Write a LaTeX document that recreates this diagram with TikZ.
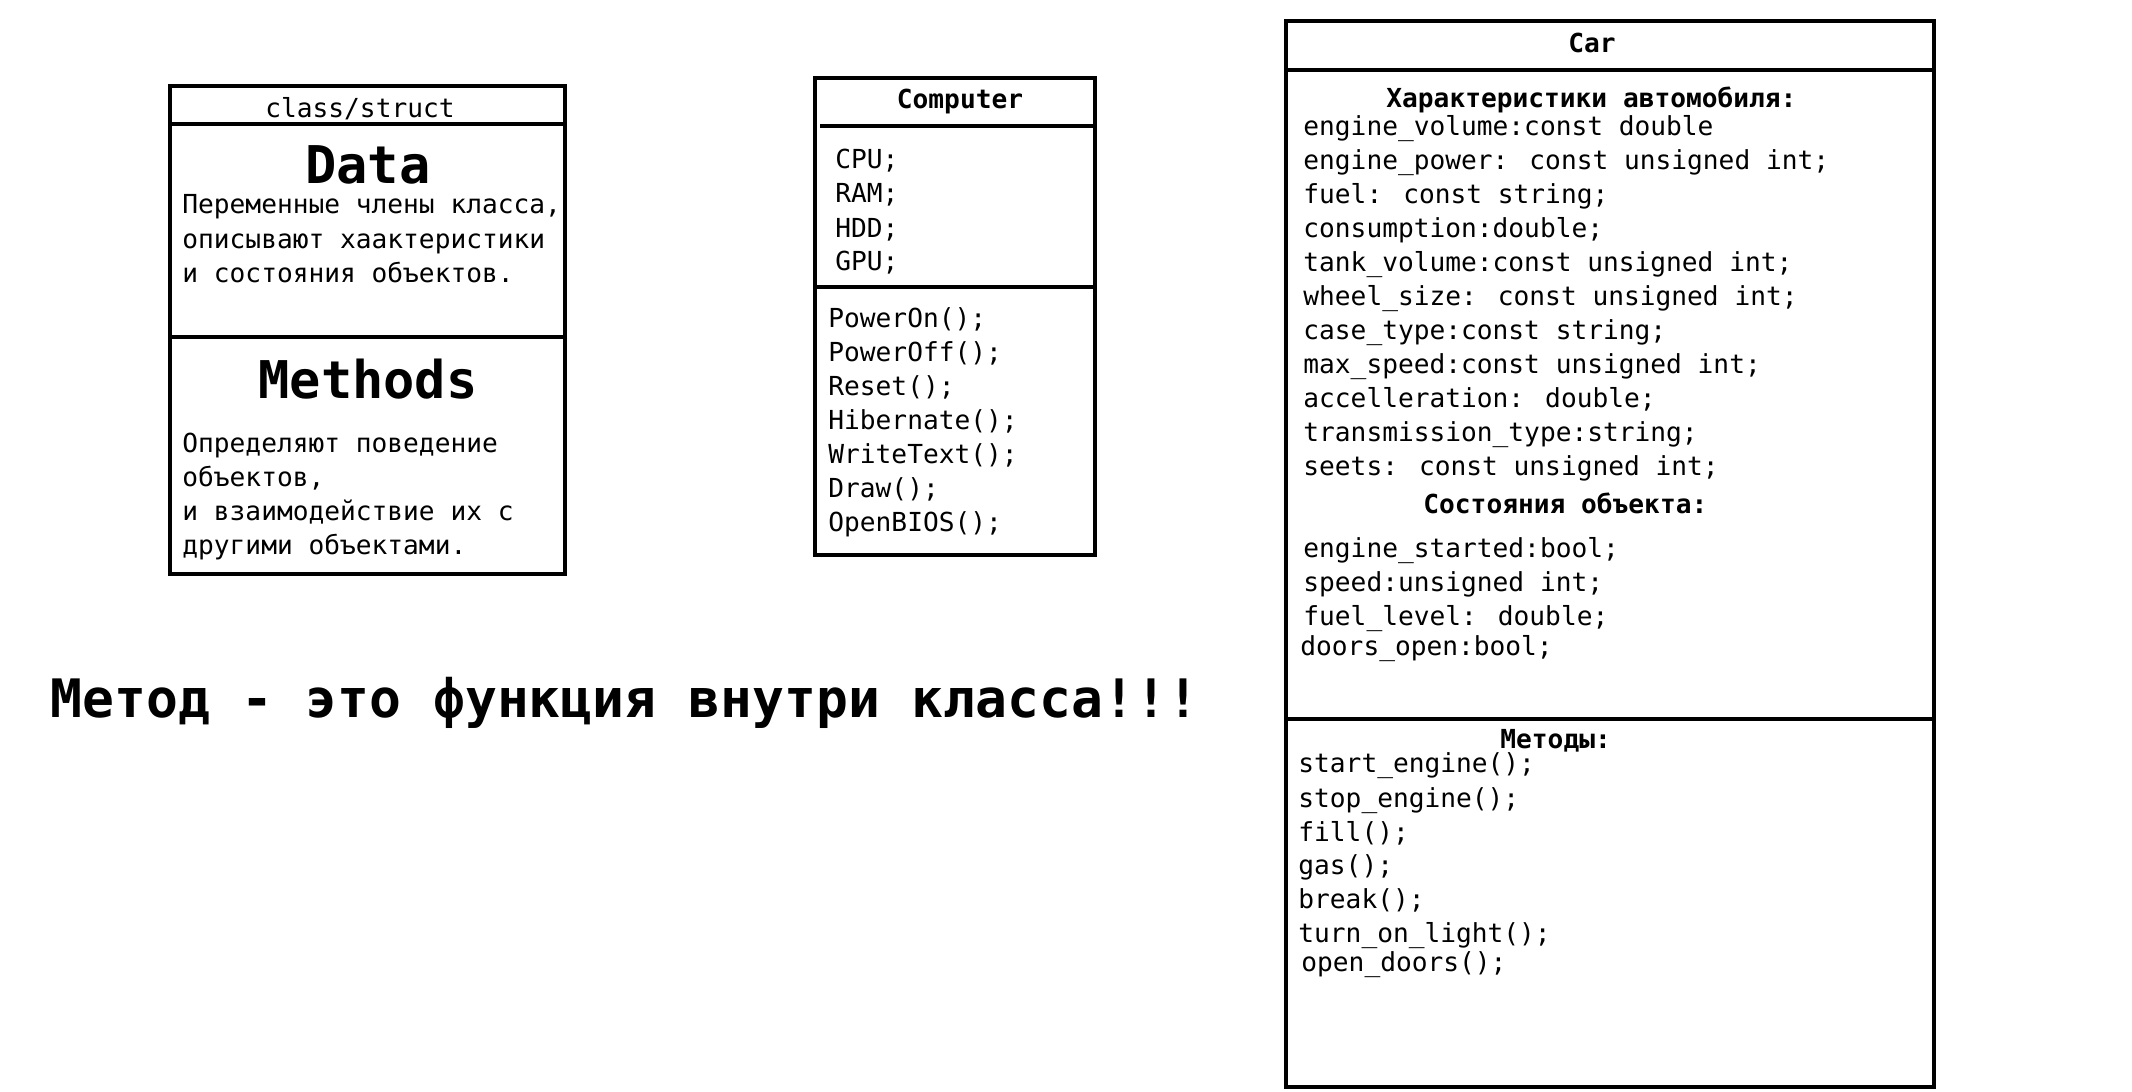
\documentclass[tikz,border=0pt]{standalone}
\usepackage{fontspec}
\setmainfont{DejaVu Sans Mono}
\setmonofont{DejaVu Sans Mono}
\tikzset{
  txt/.style={anchor=base west, inner sep=0pt, font=\fontsize{13.1}{16}\selectfont},
  head/.style={anchor=base, inner sep=0pt, font=\fontsize{13.1}{16}\selectfont\bfseries},
  headw/.style={anchor=base west, inner sep=0pt, font=\fontsize{13.1}{16}\selectfont\bfseries},
  big/.style={anchor=base, inner sep=0pt, font=\fontsize{26}{30}\selectfont\bfseries},
  frame/.style={line width=2.4pt}
}
\begin{document}
\begin{tikzpicture}[x=0.5pt,y=-0.5pt]
\useasboundingbox[fill=white] (0,0) rectangle (2132,1092);

% ---- class/struct box
\draw[frame] (170,86) rectangle (565,574);
\draw[frame] (170,124) -- (565,124);
\draw[frame] (170,337) -- (565,337);
\node[head, font=\fontsize{13.1}{16}\selectfont] (cs) at (360,117) {class/struct};
\node[big] (data) at (368,183) {Data};
\node[txt] (d1) at (182,213) {Переменные члены класса,};
\node[txt] (d2) at (182,248) {описывают хаактеристики};
\node[txt] (d3) at (182,282) {и состояния объектов.};
\node[big] (meth) at (368,398) {Methods};
\node[txt] (m1) at (182,452) {Определяют поведение};
\node[txt] (m2) at (182,486) {объектов,};
\node[txt] (m3) at (182,520) {и взаимодействие их с};
\node[txt] (m4) at (182,554) {другими объектами.};

% ---- Computer box
\draw[frame] (815,78) rectangle (1095,555);
\draw[frame] (820,126) -- (1095,126);
\draw[frame] (815,287) -- (1095,287);
\node[head] (comp) at (960,108) {Computer};
\node[txt] (c1) at (835,168) {CPU;};
\node[txt] (c2) at (835,202) {RAM;};
\node[txt] (c3) at (835,237) {HDD;};
\node[txt] (c4) at (835,270) {GPU;};
\node[txt] (cm1) at (828,327) {PowerOn();};
\node[txt] (cm2) at (828,361) {PowerOff();};
\node[txt] (cm3) at (828,395) {Reset();};
\node[txt] (cm4) at (828,429) {Hibernate();};
\node[txt] (cm5) at (828,463) {WriteText();};
\node[txt] (cm6) at (828,497) {Draw();};
\node[txt] (cm7) at (828,531) {OpenBIOS();};

% ---- Car box
\draw[frame] (1286,21) rectangle (1934,1087);
\draw[frame] (1286,70) -- (1934,70);
\draw[frame] (1286,719) -- (1934,719);
\node[head] (car) at (1592,52) {Car};
\node[headw] (ch) at (1386,107) {Характеристики автомобиля:};
\node[txt] (a1) at (1303,135) {engine\_volume:const double};
\node[txt] (a2) at (1303,169) {engine\_power: const unsigned int;};
\node[txt] (a3) at (1303,203) {fuel: const string;};
\node[txt] (a4) at (1303,237) {consumption:double;};
\node[txt] (a5) at (1303,271) {tank\_volume:const unsigned int;};
\node[txt] (a6) at (1303,305) {wheel\_size: const unsigned int;};
\node[txt] (a7) at (1303,339) {case\_type:const string;};
\node[txt] (a8) at (1303,373) {max\_speed:const unsigned int;};
\node[txt] (a9) at (1303,407) {accelleration: double;};
\node[txt] (a10) at (1303,441) {transmission\_type:string;};
\node[txt] (a11) at (1303,475) {seets: const unsigned int;};
\node[headw] (sh) at (1423,513) {Состояния объекта:};
\node[txt] (s1) at (1303,557) {engine\_started:bool;};
\node[txt] (s2) at (1303,591) {speed:unsigned int;};
\node[txt] (s3) at (1303,625) {fuel\_level: double;};
\node[txt] (s4) at (1300,655) {doors\_open:bool;};
\node[headw] (mh) at (1500,748) {Методы:};
\node[txt] (f1) at (1298,772) {start\_engine();};
\node[txt] (f2) at (1298,807) {stop\_engine();};
\node[txt] (f3) at (1298,841) {fill();};
\node[txt] (f4) at (1298,874) {gas();};
\node[txt] (f5) at (1298,908) {break();};
\node[txt] (f6) at (1298,942) {turn\_on\_light();};
\node[txt] (f7) at (1301,971) {open\_doors();};

% ---- bottom statement
\node[anchor=base west, inner sep=0pt, font=\fontsize{26.5}{30}\selectfont\bfseries] (stmt) at (50,717) {Метод - это функция внутри класса!!!};
\end{tikzpicture}
\end{document}
